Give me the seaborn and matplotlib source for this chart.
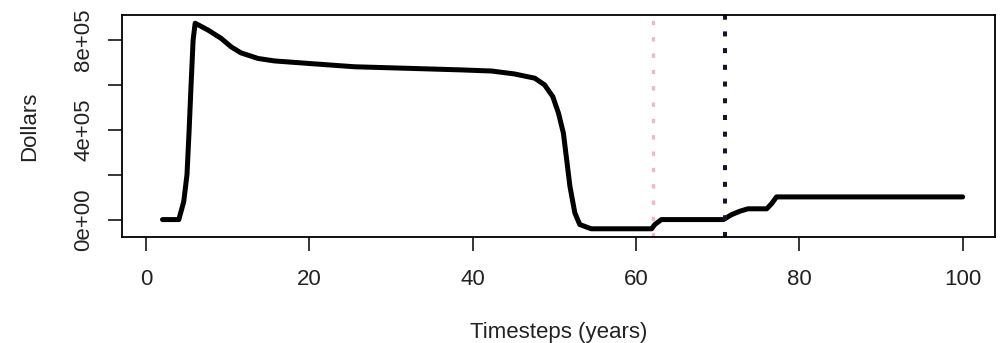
import matplotlib
matplotlib.use("Agg")
import matplotlib.pyplot as plt
import seaborn as sns
import pandas as pd

# values
years = [2, 3, 4, 4.6, 5, 5.25, 5.5, 5.75, 6, 7.6, 9.2, 10.4, 11.6, 13.7, 15.7,
         19.8, 25.5, 32.1, 38.6, 42.3, 45.1, 47.6, 48.8, 49.8, 50.5, 51.1, 51.5,
         51.9, 52.5, 53.1, 54.5, 61.9, 62.3, 63.1, 70.7, 71.7, 72.7, 73.7, 76.0,
         76.6, 77.2, 100]
dollars = [0, 0, 0, 80e3, 200e3, 390e3, 600e3, 800e3, 875e3, 844e3, 807e3, 770e3,
           743e3, 718e3, 707e3, 696e3, 681e3, 674e3, 667e3, 662e3, 649e3, 630e3,
           600e3, 548e3, 474e3, 385e3, 267e3, 148e3, 30e3, -22e3, -41e3, -41e3,
           -22e3, 0, 0, 22e3, 37e3, 48e3, 48e3, 71e3, 101e3, 101e3]
marker_pink = 62.1
marker_navy = 70.9
xticks = [0, 20, 40, 60, 80, 100]
yticks = [0, 2e5, 4e5, 6e5, 8e5]
ytick_labels = ["0e+00", "", "4e+05", "", "8e+05"]

sns.set_style("white")
plt.rcParams['font.family'] = ['Liberation Sans', 'DejaVu Sans']

df = pd.DataFrame({'year': years, 'dollars': dollars})

fig = plt.figure(figsize=(10.04, 3.43), dpi=100)
ax = fig.add_axes([122 / 1004, 1 - 237 / 343, (995 - 122) / 1004, (237 - 15) / 343])

sns.lineplot(data=df, x='year', y='dollars', color='black', lw=3.6, ax=ax,
             solid_capstyle='round', solid_joinstyle='round')
ax.axvline(marker_pink, color='#ecb9c5', lw=2.4, ls=(0, (1.3, 3.6)))
ax.axvline(marker_navy, color='#141432', lw=2.9, ls=(0, (1.25, 2.9)))

# R style 4% padding around x 1..100
xr = 100 - 1
ax.set_xlim(1 - 0.04 * xr, 100 + 0.04 * xr)
ymin, ymax = min(dollars), max(dollars)
yr = ymax - ymin
ax.set_ylim(ymin - 0.04 * yr, ymax + 0.04 * yr)

ax.set_xticks(xticks)
ax.set_xticklabels([str(t) for t in xticks])
ax.set_yticks(yticks)
ax.set_yticklabels(ytick_labels, rotation=90, va='center')

for s in ax.spines.values():
    s.set_color('black')
    s.set_linewidth(1.3)
ax.tick_params(axis='both', direction='out', length=10, width=1.1, color='black',
               labelsize=16, labelcolor='#222222', bottom=True, left=True)
ax.tick_params(axis='x', pad=13)
ax.tick_params(axis='y', pad=10)

ax.set_xlabel('Timesteps (years)', fontsize=16, color='#222222', labelpad=23)
ax.set_ylabel('Dollars', fontsize=16, color='#222222', labelpad=24)

fig.savefig('out.png', dpi=100)
